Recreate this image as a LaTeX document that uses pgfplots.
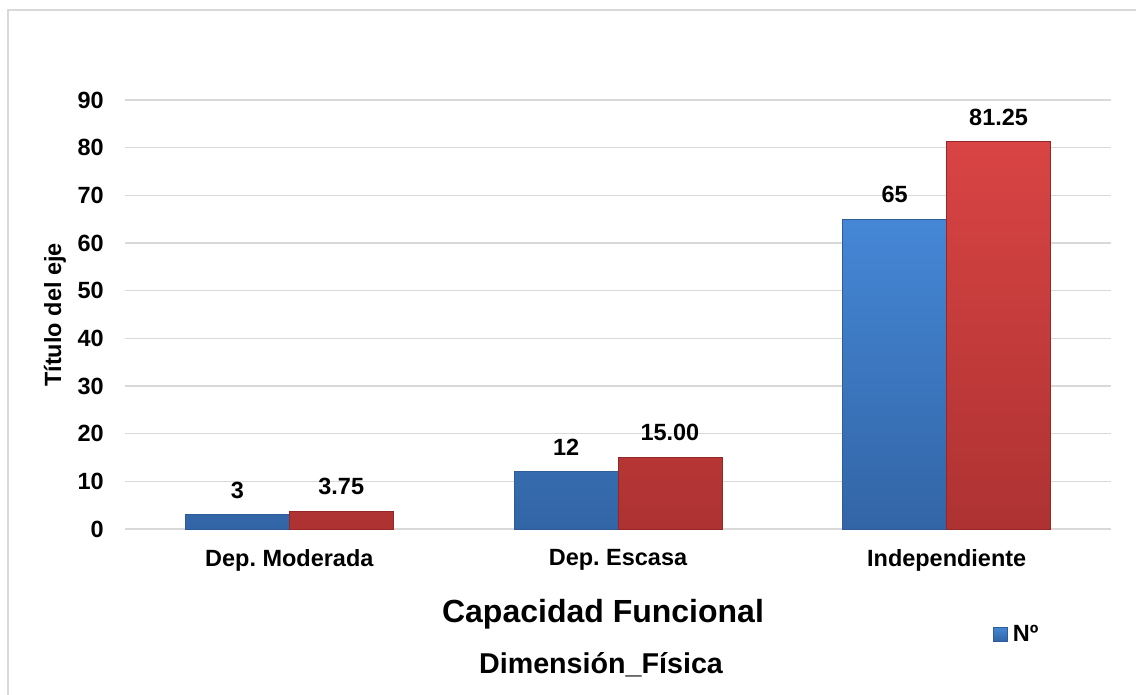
\documentclass[border=0pt]{standalone}
\usepackage{fontspec}
\setmainfont{Liberation Sans}
\usepackage{pgfplots}
\pgfplotsset{compat=1.18}
\definecolor{gridgray}{HTML}{D9D9D9}
\definecolor{blueTop}{HTML}{4587D6}
\definecolor{blueBot}{HTML}{3265A6}
\definecolor{blueEdge}{HTML}{2D5C98}
\definecolor{redTop}{HTML}{D94444}
\definecolor{redBot}{HTML}{AE3232}
\definecolor{redEdge}{HTML}{942828}
\newcommand{\lblfont}{\fontsize{17.6}{20}\selectfont\bfseries}
\frenchspacing
\begin{document}
\begin{tikzpicture}
\path[use as bounding box] (0,0) rectangle (852pt,-521.25pt);
\draw[gridgray, line width=1.5pt] (6pt,-521.25pt) -- (6pt,-7.5pt) -- (852pt,-7.5pt);
\begin{axis}[
  at={(93.75pt,-396.75pt)}, anchor=south west,
  scale only axis, width=739.5pt, height=321.75pt,
  ybar=0pt, bar width=0.316,
  xmin=-0.5, xmax=2.5, ymin=0, ymax=90,
  xtick={0,1,2},
  xticklabels={Dep.\ Moderada, Dep.\ Escasa, Independiente},
  ytick={0,10,...,90},
  ymajorgrids, grid style={gridgray, line width=1pt},
  axis line style={draw=none}, major tick length=0pt,
  tick label style={font=\lblfont},
  yticklabel style={inner sep=0pt, xshift=-15.75pt},
  xticklabel style={inner sep=0pt, yshift=-15pt},
  /pgf/number format/assume math mode=true,
  nodes near coords,
  nodes near coords style={font=\lblfont, inner sep=0pt, anchor=south, yshift=12pt, black},
  every axis plot post/.append style={legend image code/.code={
    \fill[top color=blueTop, bottom color=blueBot] (0pt,-5.25pt) rectangle (10.5pt,5.25pt);}},
  legend style={at={(0.880,-0.245)}, anchor=west, draw=none, fill=none,
    font=\lblfont, inner sep=0pt, column sep=2pt},
]
\addplot[top color=blueTop, bottom color=blueBot, draw=blueEdge, line width=0.5pt]
  coordinates {(0,3) (1,12) (2,65)};
\addlegendentry{Nº}
\addplot[top color=redTop, bottom color=redBot, draw=redEdge, line width=0.5pt,
  nodes near coords={\pgfmathprintnumber[fixed,fixed zerofill,precision=2]{\pgfplotspointmeta}}]
  coordinates {(0,3.75) (1,15) (2,81.25)};
\end{axis}
\node[rotate=90, font=\lblfont, anchor=center] at (41.25pt,-236.25pt) {Título del eje};
\node[font=\fontsize{24}{28}\selectfont\bfseries, anchor=base] at (452.25pt,-466.5pt) {Capacidad Funcional};
\node[font=\fontsize{21.5}{25}\selectfont\bfseries, anchor=base] at (450.75pt,-504.75pt) {Dimensión\_Física};
\end{tikzpicture}
\end{document}
